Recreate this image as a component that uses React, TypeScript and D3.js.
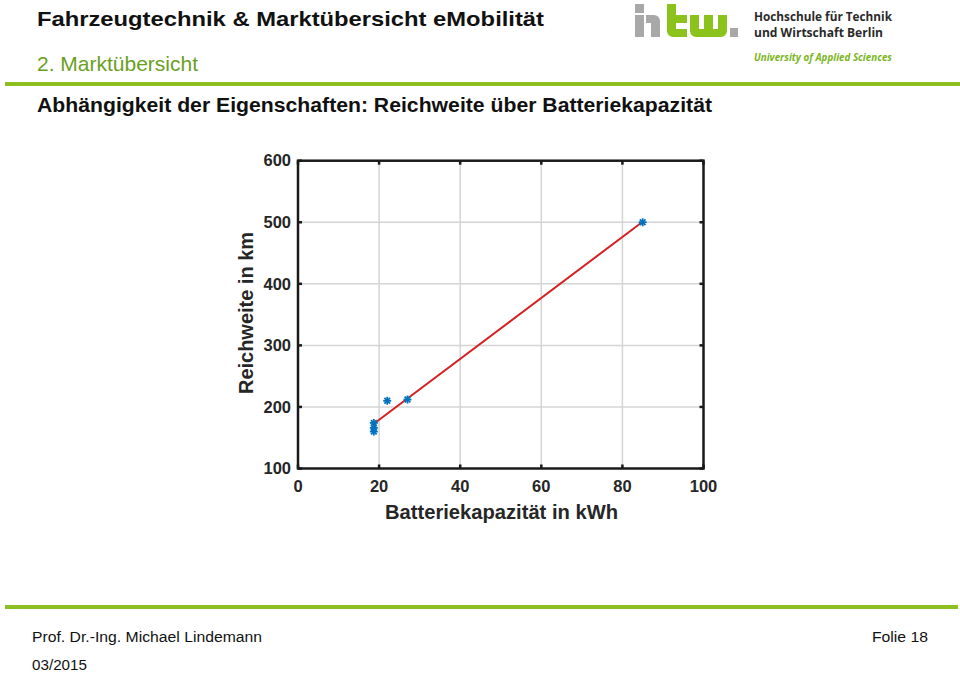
import React from "react";
import * as d3 from "d3";

const capacityKWh = [18.7, 18.7, 18.7, 22, 27, 85];
const rangeKm = [160, 166, 174, 210, 212, 500];
const xTicks = [0, 20, 40, 60, 80, 100];
const yTicks = [100, 200, 300, 400, 500, 600];

const W = 960;
const H = 673;
const plot = { left: 298, right: 703.5, top: 160.7, bottom: 468.5 };

const x = d3.scaleLinear().domain([0, 100]).range([plot.left, plot.right]);
const y = d3.scaleLinear().domain([100, 600]).range([plot.bottom, plot.top]);

function fit(xs: number[], ys: number[]) {
  const mx = d3.mean(xs)!;
  const my = d3.mean(ys)!;
  let sxy = 0;
  let sxx = 0;
  xs.forEach((v, i) => {
    sxy += (v - mx) * (ys[i] - my);
    sxx += (v - mx) * (v - mx);
  });
  const b = sxy / sxx;
  return { a: my - b * mx, b };
}

const GREEN = "#8cbf1f";
const TEXT = "#262626";

function Star({ cx, cy }: { cx: number; cy: number }) {
  const r = 4;
  const d = r * Math.SQRT1_2;
  return (
    <g stroke="#0072BD" strokeWidth={1.8}>
      <line x1={cx - r} y1={cy} x2={cx + r} y2={cy} />
      <line x1={cx} y1={cy - r} x2={cx} y2={cy + r} />
      <line x1={cx - d} y1={cy - d} x2={cx + d} y2={cy + d} />
      <line x1={cx - d} y1={cy + d} x2={cx + d} y2={cy - d} />
    </g>
  );
}

export default function App() {
  const { a, b } = fit(capacityKWh, rangeKm);
  const x0 = d3.min(capacityKWh)!;
  const x1 = d3.max(capacityKWh)!;
  const line = d3
    .line<number>()
    .x((v) => x(v))
    .y((v) => y(a + b * v));

  return (
    <svg
      width={W}
      height={H}
      style={{ position: "absolute", left: 0, top: 0, background: "#fff" }}
      fontFamily="'Liberation Sans', Arial, sans-serif"
    >
      <rect width={W} height={H} fill="#fff" />
      {/* header */}
      <text x={37} y={26} fontSize={21} fontWeight="bold" fill="#111" textLength={507} lengthAdjust="spacingAndGlyphs">
        Fahrzeugtechnik &amp; Marktübersicht eMobilität
      </text>
      <text x={37} y={71} fontSize={21} fill="#6a9f1e" textLength={161} lengthAdjust="spacingAndGlyphs">
        2. Marktübersicht
      </text>
      <rect x={5} y={82} width={955} height={4} fill={GREEN} />
      <text x={37} y={112} fontSize={20} fontWeight="bold" fill="#111" textLength={675} lengthAdjust="spacingAndGlyphs">
        Abhängigkeit der Eigenschaften: Reichweite über Batteriekapazität
      </text>

      {/* logo */}
      <g>
        <g fill="#a8a8a8">
          <rect x={635} y={4} width={9} height={9} />
          <rect x={635} y={15} width={9} height={22} />
          <path d="M646,15 h8 a6,6 0 0 1 6,6 v16 h-9 v-14 h-5 z" />
          <rect x={730} y={28} width={8} height={9} />
        </g>
        <g fill="#8cc21c">
          <path d="M667,4 h9 v11 h11 v8 h-11 v6 h11 v8 h-14 a6,6 0 0 1 -6,-6 z" />
          <path d="M690,15 h9 v14 h5 v-14 h9 v14 h5 v-14 h9 v16 a6,6 0 0 1 -6,6 h-25 a6,6 0 0 1 -6,-6 z" />
        </g>
        <text x={754} y={21} fontSize={12.5} fontWeight="bold" fill="#2a2a2a" fontFamily="'Open Sans', 'DejaVu Sans', sans-serif" textLength={138} lengthAdjust="spacingAndGlyphs">
          Hochschule für Technik
        </text>
        <text x={754} y={36.5} fontSize={12.5} fontWeight="bold" fill="#2a2a2a" fontFamily="'Open Sans', 'DejaVu Sans', sans-serif" textLength={129} lengthAdjust="spacingAndGlyphs">
          und Wirtschaft Berlin
        </text>
        <text x={754} y={61} fontSize={11} fontWeight="bold" fontStyle="italic" fill="#7ab51d" fontFamily="'Open Sans', 'DejaVu Sans', sans-serif" textLength={138} lengthAdjust="spacingAndGlyphs">
          University of Applied Sciences
        </text>
      </g>

      {/* grid */}
      <g stroke="#d4d4d4" strokeWidth={1.5}>
        {xTicks.slice(1, -1).map((t) => (
          <line key={"gx" + t} x1={x(t)} x2={x(t)} y1={plot.top} y2={plot.bottom} />
        ))}
        {yTicks.slice(1, -1).map((t) => (
          <line key={"gy" + t} x1={plot.left} x2={plot.right} y1={y(t)} y2={y(t)} />
        ))}
      </g>

      {/* fit line */}
      <path d={line([x0, x1]) || ""} stroke="#d42020" strokeWidth={2} fill="none" />

      {/* markers */}
      {capacityKWh.map((c, i) => (
        <Star key={i} cx={x(c)} cy={y(rangeKm[i])} />
      ))}

      {/* box and ticks */}
      <g stroke="#1a1a1a" strokeWidth={2.5} fill="none">
        <rect x={plot.left} y={plot.top} width={plot.right - plot.left} height={plot.bottom - plot.top} />
        {xTicks.map((t) => (
          <g key={"tx" + t}>
            <line x1={x(t)} x2={x(t)} y1={plot.bottom} y2={plot.bottom - 4} />
            <line x1={x(t)} x2={x(t)} y1={plot.top} y2={plot.top + 4} />
          </g>
        ))}
        {yTicks.map((t) => (
          <g key={"ty" + t}>
            <line x1={plot.left} x2={plot.left + 4} y1={y(t)} y2={y(t)} />
            <line x1={plot.right} x2={plot.right - 4} y1={y(t)} y2={y(t)} />
          </g>
        ))}
      </g>

      {/* tick labels */}
      <g fontSize={16.5} fontWeight="bold" fill={TEXT}>
        {xTicks.map((t) => (
          <text key={"lx" + t} x={x(t)} y={492} textAnchor="middle">
            {t}
          </text>
        ))}
        {yTicks.map((t) => (
          <text key={"ly" + t} x={291} y={y(t)} dy="0.35em" textAnchor="end">
            {t}
          </text>
        ))}
      </g>
      <text x={501.5} y={519} fontSize={19.5} fontWeight="bold" fill={TEXT} textAnchor="middle" textLength={233} lengthAdjust="spacingAndGlyphs">
        Batteriekapazität in kWh
      </text>
      <text
        transform={`translate(253,313) rotate(-90)`}
        fontSize={19.5}
        fontWeight="bold"
        fill={TEXT}
        textAnchor="middle"
        textLength={162}
        lengthAdjust="spacingAndGlyphs"
      >
        Reichweite in km
      </text>

      {/* footer */}
      <rect x={5} y={605} width={953} height={4} fill={GREEN} />
      <text x={32} y={642} fontSize={15.5} fill="#111" textLength={230} lengthAdjust="spacingAndGlyphs">
        Prof. Dr.-Ing. Michael Lindemann
      </text>
      <text x={872} y={642} fontSize={15.5} fill="#111" textLength={56} lengthAdjust="spacingAndGlyphs">
        Folie 18
      </text>
      <text x={32} y={670} fontSize={15.5} fill="#111" textLength={55} lengthAdjust="spacingAndGlyphs">
        03/2015
      </text>
    </svg>
  );
}
